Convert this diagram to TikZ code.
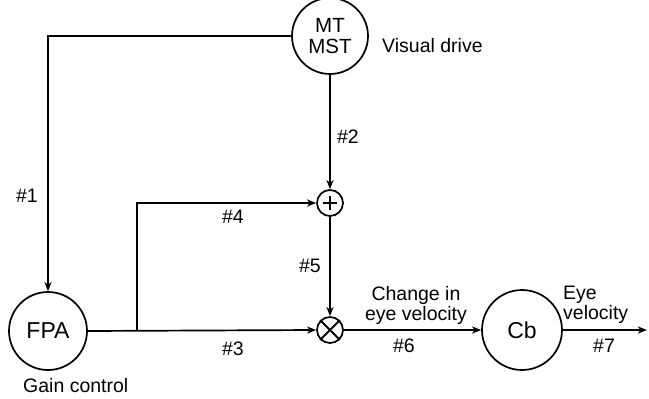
\documentclass[tikz,border=0pt]{standalone}
\usepackage{fontspec}
\setmainfont{Liberation Sans}
\usetikzlibrary{arrows.meta}
\begin{document}
\begin{tikzpicture}[x=1pt,y=-1pt,
  font=\fontsize{19.5}{22}\selectfont,
  circ/.style={draw, circle, line width=1.7pt, inner sep=0pt},
  conn/.style={line width=1.7pt},
  arr/.style={conn, -{Stealth[length=9pt,width=7pt,inset=2.5pt]}},
  lbl/.style={inner sep=0pt}]
\useasboundingbox (0,0) rectangle (649,399);
\node[circ, minimum size=76pt, align=center, font=\fontsize{20.5}{21}\selectfont] (mt) at (330,36) {MT\\MST};
\node[circ, minimum size=78pt, font=\fontsize{23}{24}\selectfont] (fpa) at (48,331) {FPA};
\node[circ, minimum size=26pt] (plus) at (330,203) {};
\node[circ, minimum size=26pt] (times) at (330,330) {};
\node[circ, minimum size=80pt, font=\fontsize{23}{24}\selectfont] (cb) at (522,330) {Cb};
\coordinate (branch) at (137,330);
\coordinate (out) at (647,330);
% symbols inside the small circles
\draw[conn] ([xshift=-7pt]plus.center) -- ([xshift=7pt]plus.center);
\draw[conn] ([yshift=-7pt]plus.center) -- ([yshift=7pt]plus.center);
\draw[line width=2pt] (times.north west) -- (times.south east);
\draw[line width=2pt] (times.north east) -- (times.south west);
% connectors
\draw[arr] (mt.west) -| (fpa.north);
\draw[arr] (mt.south) -- (plus.north);
\draw[arr] (plus.south) -- (times.north);
\draw[arr] (fpa.east) -- (times.west);
\draw[arr] (branch) |- (plus.west);
\draw[arr] (times.east) -- (cb.west);
\draw[arr] (cb.east) -- (out);
% labels
\node[lbl, anchor=west] (vd) at (382,46) {Visual drive};
\node[lbl, anchor=west] (gc) at (23,386) {Gain control};
\node[lbl] (l1) at (27,196) {\#1};
\node[lbl] (l2) at (348,137) {\#2};
\node[lbl] (l3) at (233,349) {\#3};
\node[lbl] (l4) at (233,217) {\#4};
\node[lbl] (l5) at (310,266) {\#5};
\node[lbl] (l6) at (404,346) {\#6};
\node[lbl] (l7) at (604,346) {\#7};
\node[lbl, align=center, font=\fontsize{19.5}{20}\selectfont] (chg) at (416,305) {Change in\\eye velocity};
\node[lbl, align=left, font=\fontsize{19.5}{20}\selectfont, anchor=west] (ev) at (563,305) {Eye\\velocity};
\end{tikzpicture}
\end{document}
